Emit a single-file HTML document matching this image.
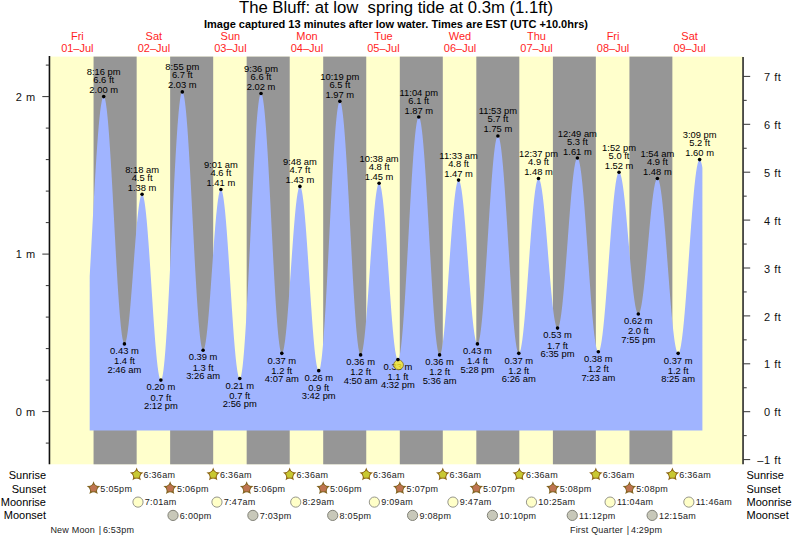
<!DOCTYPE html><html><head><meta charset="utf-8"><style>html,body{margin:0;padding:0;background:#fff;width:793px;height:538px;overflow:hidden}svg{display:block}text{font-family:"Liberation Sans", sans-serif}</style></head><body>
<svg width="793" height="538" viewBox="0 0 793 538">
<rect x="0" y="0" width="793" height="538" fill="#fff"/>
<text x="396" y="13.2" font-size="16.7" text-anchor="middle" fill="#000" style="white-space:pre">The Bluff: at low  spring tide at 0.3m (1.1ft)</text>
<text x="396" y="27.8" font-size="11" font-weight="bold" text-anchor="middle" fill="#000">Image captured 13 minutes after low water. Times are EST (UTC +10.0hrs)</text>
<text x="77.35" y="40.0" font-size="11" text-anchor="middle" fill="#FF1E1E">Fri</text>
<text x="77.35" y="51.85" font-size="11" text-anchor="middle" fill="#FF1E1E">01&#8211;Jul</text>
<text x="153.88" y="40.0" font-size="11" text-anchor="middle" fill="#FF1E1E">Sat</text>
<text x="153.88" y="51.85" font-size="11" text-anchor="middle" fill="#FF1E1E">02&#8211;Jul</text>
<text x="230.41" y="40.0" font-size="11" text-anchor="middle" fill="#FF1E1E">Sun</text>
<text x="230.41" y="51.85" font-size="11" text-anchor="middle" fill="#FF1E1E">03&#8211;Jul</text>
<text x="306.94" y="40.0" font-size="11" text-anchor="middle" fill="#FF1E1E">Mon</text>
<text x="306.94" y="51.85" font-size="11" text-anchor="middle" fill="#FF1E1E">04&#8211;Jul</text>
<text x="383.47" y="40.0" font-size="11" text-anchor="middle" fill="#FF1E1E">Tue</text>
<text x="383.47" y="51.85" font-size="11" text-anchor="middle" fill="#FF1E1E">05&#8211;Jul</text>
<text x="460.00" y="40.0" font-size="11" text-anchor="middle" fill="#FF1E1E">Wed</text>
<text x="460.00" y="51.85" font-size="11" text-anchor="middle" fill="#FF1E1E">06&#8211;Jul</text>
<text x="536.53" y="40.0" font-size="11" text-anchor="middle" fill="#FF1E1E">Thu</text>
<text x="536.53" y="51.85" font-size="11" text-anchor="middle" fill="#FF1E1E">07&#8211;Jul</text>
<text x="613.06" y="40.0" font-size="11" text-anchor="middle" fill="#FF1E1E">Fri</text>
<text x="613.06" y="51.85" font-size="11" text-anchor="middle" fill="#FF1E1E">08&#8211;Jul</text>
<text x="689.60" y="40.0" font-size="11" text-anchor="middle" fill="#FF1E1E">Sat</text>
<text x="689.60" y="51.85" font-size="11" text-anchor="middle" fill="#FF1E1E">09&#8211;Jul</text>
<rect x="49.30" y="56.60" width="693.90" height="407.70" fill="#FFFFCC"/>
<rect x="93.56" y="56.60" width="43.10" height="407.70" fill="#969696"/>
<rect x="170.14" y="56.60" width="43.05" height="407.70" fill="#969696"/>
<rect x="246.67" y="56.60" width="43.05" height="407.70" fill="#969696"/>
<rect x="323.20" y="56.60" width="43.05" height="407.70" fill="#969696"/>
<rect x="399.79" y="56.60" width="43.00" height="407.70" fill="#969696"/>
<rect x="476.32" y="56.60" width="43.00" height="407.70" fill="#969696"/>
<rect x="552.90" y="56.60" width="42.94" height="407.70" fill="#969696"/>
<rect x="629.43" y="56.60" width="42.94" height="407.70" fill="#969696"/>
<path d="M89.70 430.60 L89.70 276.14 L90.01 270.61 L90.31 265.03 L90.62 259.41 L90.93 253.75 L91.23 248.06 L91.54 242.37 L91.84 236.66 L92.15 230.96 L92.46 225.26 L92.76 219.59 L93.07 213.95 L93.38 208.35 L93.68 202.80 L93.99 197.31 L94.30 191.88 L94.60 186.53 L94.91 181.26 L95.21 176.08 L95.52 171.01 L95.83 166.04 L96.13 161.19 L96.44 156.47 L96.75 151.88 L97.05 147.43 L97.36 143.13 L97.67 138.98 L97.97 134.99 L98.28 131.17 L98.58 127.52 L98.89 124.05 L99.20 120.77 L99.50 117.68 L99.81 114.78 L100.12 112.09 L100.42 109.60 L100.73 107.32 L101.03 105.25 L101.34 103.39 L101.65 101.76 L101.95 100.34 L102.26 99.15 L102.57 98.19 L102.87 97.45 L103.18 96.94 L103.49 96.66 L103.79 96.61 L104.10 96.82 L104.40 97.29 L104.71 98.03 L105.02 99.03 L105.32 100.30 L105.63 101.82 L105.94 103.60 L106.24 105.63 L106.55 107.90 L106.86 110.42 L107.16 113.17 L107.47 116.16 L107.77 119.37 L108.08 122.80 L108.39 126.43 L108.69 130.27 L109.00 134.31 L109.31 138.53 L109.61 142.92 L109.92 147.48 L110.23 152.20 L110.53 157.07 L110.84 162.07 L111.14 167.19 L111.45 172.44 L111.76 177.78 L112.06 183.22 L112.37 188.73 L112.68 194.31 L112.98 199.95 L113.29 205.64 L113.60 211.35 L113.90 217.08 L114.21 222.82 L114.51 228.56 L114.82 234.28 L115.13 239.96 L115.43 245.61 L115.74 251.20 L116.05 256.72 L116.35 262.16 L116.66 267.52 L116.97 272.77 L117.27 277.91 L117.58 282.92 L117.88 287.80 L118.19 292.53 L118.50 297.11 L118.80 301.52 L119.11 305.76 L119.42 309.81 L119.72 313.67 L120.03 317.33 L120.34 320.78 L120.64 324.01 L120.95 327.02 L121.25 329.79 L121.56 332.34 L121.87 334.64 L122.17 336.69 L122.48 338.49 L122.79 340.04 L123.09 341.33 L123.40 342.36 L123.70 343.12 L124.01 343.62 L124.32 343.86 L124.62 343.83 L124.93 343.58 L125.24 343.11 L125.54 342.42 L125.85 341.51 L126.16 340.39 L126.46 339.05 L126.77 337.50 L127.07 335.75 L127.38 333.81 L127.69 331.67 L127.99 329.34 L128.30 326.84 L128.61 324.16 L128.91 321.32 L129.22 318.32 L129.53 315.18 L129.83 311.90 L130.14 308.49 L130.44 304.97 L130.75 301.33 L131.06 297.61 L131.36 293.79 L131.67 289.91 L131.98 285.96 L132.28 281.96 L132.59 277.92 L132.90 273.86 L133.20 269.78 L133.51 265.70 L133.81 261.64 L134.12 257.59 L134.43 253.57 L134.73 249.61 L135.04 245.70 L135.35 241.86 L135.65 238.10 L135.96 234.43 L136.27 230.87 L136.57 227.42 L136.88 224.09 L137.18 220.90 L137.49 217.85 L137.80 214.95 L138.10 212.22 L138.41 209.65 L138.72 207.26 L139.02 205.05 L139.33 203.04 L139.64 201.22 L139.94 199.60 L140.25 198.19 L140.55 196.99 L140.86 196.00 L141.17 195.23 L141.47 194.68 L141.78 194.36 L142.09 194.25 L142.39 194.38 L142.70 194.75 L143.00 195.36 L143.31 196.21 L143.62 197.30 L143.92 198.63 L144.23 200.19 L144.54 201.97 L144.84 203.98 L145.15 206.20 L145.46 208.64 L145.76 211.28 L146.07 214.12 L146.37 217.16 L146.68 220.37 L146.99 223.76 L147.29 227.32 L147.60 231.03 L147.91 234.89 L148.21 238.89 L148.52 243.01 L148.83 247.25 L149.13 251.59 L149.44 256.03 L149.74 260.55 L150.05 265.13 L150.36 269.78 L150.66 274.47 L150.97 279.19 L151.28 283.93 L151.58 288.69 L151.89 293.44 L152.20 298.17 L152.50 302.87 L152.81 307.54 L153.11 312.15 L153.42 316.69 L153.73 321.16 L154.03 325.53 L154.34 329.81 L154.65 333.98 L154.95 338.02 L155.26 341.93 L155.57 345.70 L155.87 349.31 L156.18 352.77 L156.48 356.05 L156.79 359.14 L157.10 362.06 L157.40 364.77 L157.71 367.28 L158.02 369.59 L158.32 371.68 L158.63 373.54 L158.94 375.18 L159.24 376.59 L159.55 377.77 L159.85 378.71 L160.16 379.41 L160.47 379.87 L160.77 380.08 L161.08 380.05 L161.39 379.72 L161.69 379.11 L162.00 378.21 L162.30 377.02 L162.61 375.54 L162.92 373.79 L163.22 371.75 L163.53 369.44 L163.84 366.87 L164.14 364.02 L164.45 360.92 L164.76 357.57 L165.06 353.97 L165.37 350.14 L165.67 346.07 L165.98 341.78 L166.29 337.28 L166.59 332.57 L166.90 327.67 L167.21 322.58 L167.51 317.32 L167.82 311.89 L168.13 306.31 L168.43 300.59 L168.74 294.74 L169.04 288.77 L169.35 282.69 L169.66 276.52 L169.96 270.27 L170.27 263.95 L170.58 257.57 L170.88 251.15 L171.19 244.69 L171.50 238.22 L171.80 231.75 L172.11 225.28 L172.41 218.84 L172.72 212.43 L173.03 206.06 L173.33 199.76 L173.64 193.53 L173.95 187.39 L174.25 181.34 L174.56 175.41 L174.87 169.60 L175.17 163.92 L175.48 158.38 L175.78 153.01 L176.09 147.80 L176.40 142.77 L176.70 137.93 L177.01 133.28 L177.32 128.84 L177.62 124.62 L177.93 120.63 L178.24 116.86 L178.54 113.34 L178.85 110.06 L179.15 107.04 L179.46 104.28 L179.77 101.79 L180.07 99.56 L180.38 97.62 L180.69 95.95 L180.99 94.56 L181.30 93.46 L181.61 92.65 L181.91 92.12 L182.22 91.89 L182.52 91.94 L182.83 92.27 L183.14 92.88 L183.44 93.76 L183.75 94.92 L184.06 96.35 L184.36 98.04 L184.67 100.00 L184.97 102.21 L185.28 104.68 L185.59 107.41 L185.89 110.37 L186.20 113.57 L186.51 117.00 L186.81 120.66 L187.12 124.53 L187.43 128.61 L187.73 132.88 L188.04 137.35 L188.34 141.99 L188.65 146.81 L188.96 151.78 L189.26 156.90 L189.57 162.16 L189.88 167.55 L190.18 173.05 L190.49 178.65 L190.80 184.34 L191.10 190.12 L191.41 195.95 L191.71 201.85 L192.02 207.78 L192.33 213.74 L192.63 219.72 L192.94 225.70 L193.25 231.67 L193.55 237.62 L193.86 243.53 L194.17 249.39 L194.47 255.20 L194.78 260.93 L195.08 266.57 L195.39 272.12 L195.70 277.55 L196.00 282.87 L196.31 288.05 L196.62 293.09 L196.92 297.98 L197.23 302.70 L197.54 307.24 L197.84 311.60 L198.15 315.76 L198.45 319.73 L198.76 323.48 L199.07 327.01 L199.37 330.31 L199.68 333.38 L199.99 336.21 L200.29 338.79 L200.60 341.12 L200.91 343.19 L201.21 345.00 L201.52 346.54 L201.82 347.81 L202.13 348.82 L202.44 349.54 L202.74 350.00 L203.05 350.17 L203.36 350.09 L203.66 349.77 L203.97 349.21 L204.27 348.43 L204.58 347.41 L204.89 346.17 L205.19 344.71 L205.50 343.02 L205.81 341.13 L206.11 339.02 L206.42 336.71 L206.73 334.21 L207.03 331.52 L207.34 328.65 L207.64 325.61 L207.95 322.40 L208.26 319.04 L208.56 315.54 L208.87 311.90 L209.18 308.14 L209.48 304.27 L209.79 300.30 L210.10 296.24 L210.40 292.10 L210.71 287.90 L211.01 283.64 L211.32 279.35 L211.63 275.03 L211.93 270.69 L212.24 266.35 L212.55 262.01 L212.85 257.71 L213.16 253.43 L213.47 249.21 L213.77 245.05 L214.08 240.95 L214.38 236.95 L214.69 233.04 L215.00 229.23 L215.30 225.55 L215.61 221.99 L215.92 218.58 L216.22 215.31 L216.53 212.20 L216.84 209.27 L217.14 206.51 L217.45 203.93 L217.75 201.55 L218.06 199.36 L218.37 197.38 L218.67 195.62 L218.98 194.07 L219.29 192.74 L219.59 191.64 L219.90 190.76 L220.21 190.12 L220.51 189.71 L220.82 189.53 L221.12 189.59 L221.43 189.90 L221.74 190.45 L222.04 191.25 L222.35 192.28 L222.66 193.56 L222.96 195.07 L223.27 196.81 L223.57 198.78 L223.88 200.97 L224.19 203.38 L224.49 205.99 L224.80 208.81 L225.11 211.83 L225.41 215.03 L225.72 218.41 L226.03 221.97 L226.33 225.68 L226.64 229.55 L226.94 233.56 L227.25 237.70 L227.56 241.96 L227.86 246.33 L228.17 250.79 L228.48 255.35 L228.78 259.98 L229.09 264.67 L229.40 269.41 L229.70 274.19 L230.01 278.99 L230.31 283.81 L230.62 288.63 L230.93 293.44 L231.23 298.22 L231.54 302.96 L231.85 307.66 L232.15 312.29 L232.46 316.86 L232.77 321.33 L233.07 325.71 L233.38 329.98 L233.68 334.13 L233.99 338.15 L234.30 342.03 L234.60 345.76 L234.91 349.33 L235.22 352.72 L235.52 355.94 L235.83 358.98 L236.14 361.81 L236.44 364.45 L236.75 366.87 L237.05 369.08 L237.36 371.07 L237.67 372.83 L237.97 374.37 L238.28 375.66 L238.59 376.72 L238.89 377.54 L239.20 378.11 L239.51 378.44 L239.81 378.52 L240.12 378.33 L240.42 377.84 L240.73 377.07 L241.04 376.00 L241.34 374.65 L241.65 373.01 L241.96 371.10 L242.26 368.90 L242.57 366.44 L242.88 363.70 L243.18 360.71 L243.49 357.46 L243.79 353.96 L244.10 350.22 L244.41 346.24 L244.71 342.04 L245.02 337.62 L245.33 333.00 L245.63 328.17 L245.94 323.16 L246.24 317.96 L246.55 312.60 L246.86 307.08 L247.16 301.42 L247.47 295.62 L247.78 289.70 L248.08 283.67 L248.39 277.54 L248.70 271.33 L249.00 265.04 L249.31 258.70 L249.61 252.31 L249.92 245.88 L250.23 239.44 L250.53 232.98 L250.84 226.54 L251.15 220.11 L251.45 213.72 L251.76 207.37 L252.07 201.08 L252.37 194.86 L252.68 188.72 L252.98 182.69 L253.29 176.76 L253.60 170.95 L253.90 165.28 L254.21 159.75 L254.52 154.38 L254.82 149.17 L255.13 144.15 L255.44 139.31 L255.74 134.67 L256.05 130.23 L256.35 126.02 L256.66 122.02 L256.97 118.27 L257.27 114.75 L257.58 111.48 L257.89 108.47 L258.19 105.72 L258.50 103.23 L258.81 101.02 L259.11 99.08 L259.42 97.43 L259.72 96.06 L260.03 94.97 L260.34 94.18 L260.64 93.67 L260.95 93.46 L261.26 93.53 L261.56 93.89 L261.87 94.52 L262.18 95.42 L262.48 96.61 L262.79 98.06 L263.09 99.78 L263.40 101.77 L263.71 104.02 L264.01 106.52 L264.32 109.28 L264.63 112.28 L264.93 115.52 L265.24 118.99 L265.54 122.68 L265.85 126.59 L266.16 130.71 L266.46 135.02 L266.77 139.53 L267.08 144.21 L267.38 149.07 L267.69 154.08 L268.00 159.24 L268.30 164.55 L268.61 169.97 L268.91 175.51 L269.22 181.16 L269.53 186.89 L269.83 192.70 L270.14 198.58 L270.45 204.51 L270.75 210.49 L271.06 216.49 L271.37 222.50 L271.67 228.52 L271.98 234.52 L272.28 240.51 L272.59 246.45 L272.90 252.35 L273.20 258.18 L273.51 263.94 L273.82 269.61 L274.12 275.18 L274.43 280.64 L274.74 285.98 L275.04 291.19 L275.35 296.25 L275.65 301.15 L275.96 305.89 L276.27 310.45 L276.57 314.82 L276.88 318.99 L277.19 322.97 L277.49 326.72 L277.80 330.26 L278.11 333.57 L278.41 336.64 L278.72 339.47 L279.02 342.04 L279.33 344.37 L279.64 346.43 L279.94 348.24 L280.25 349.77 L280.56 351.03 L280.86 352.02 L281.17 352.73 L281.48 353.17 L281.78 353.32 L282.09 353.22 L282.39 352.88 L282.70 352.31 L283.01 351.51 L283.31 350.47 L283.62 349.21 L283.93 347.72 L284.23 346.02 L284.54 344.10 L284.84 341.97 L285.15 339.64 L285.46 337.11 L285.76 334.39 L286.07 331.49 L286.38 328.41 L286.68 325.17 L286.99 321.78 L287.30 318.23 L287.60 314.55 L287.91 310.75 L288.21 306.83 L288.52 302.81 L288.83 298.69 L289.13 294.49 L289.44 290.22 L289.75 285.90 L290.05 281.52 L290.36 277.12 L290.67 272.70 L290.97 268.26 L291.28 263.84 L291.58 259.43 L291.89 255.04 L292.20 250.70 L292.50 246.42 L292.81 242.20 L293.12 238.06 L293.42 234.00 L293.73 230.05 L294.04 226.21 L294.34 222.50 L294.65 218.92 L294.95 215.48 L295.26 212.19 L295.57 209.07 L295.87 206.12 L296.18 203.35 L296.49 200.76 L296.79 198.37 L297.10 196.19 L297.41 194.20 L297.71 192.44 L298.02 190.89 L298.32 189.56 L298.63 188.46 L298.94 187.59 L299.24 186.96 L299.55 186.55 L299.86 186.38 L300.16 186.45 L300.47 186.76 L300.78 187.30 L301.08 188.09 L301.39 189.11 L301.69 190.37 L302.00 191.86 L302.31 193.57 L302.61 195.51 L302.92 197.66 L303.23 200.03 L303.53 202.60 L303.84 205.37 L304.14 208.33 L304.45 211.48 L304.76 214.80 L305.06 218.28 L305.37 221.93 L305.68 225.72 L305.98 229.65 L306.29 233.71 L306.60 237.88 L306.90 242.16 L307.21 246.54 L307.51 251.00 L307.82 255.53 L308.13 260.12 L308.43 264.76 L308.74 269.44 L309.05 274.14 L309.35 278.85 L309.66 283.56 L309.97 288.26 L310.27 292.93 L310.58 297.57 L310.88 302.15 L311.19 306.68 L311.50 311.12 L311.80 315.49 L312.11 319.75 L312.42 323.91 L312.72 327.95 L313.03 331.86 L313.34 335.64 L313.64 339.26 L313.95 342.72 L314.25 346.02 L314.56 349.13 L314.87 352.07 L315.17 354.81 L315.48 357.35 L315.79 359.68 L316.09 361.81 L316.40 363.71 L316.71 365.39 L317.01 366.85 L317.32 368.07 L317.62 369.06 L317.93 369.81 L318.24 370.33 L318.54 370.60 L318.85 370.63 L319.16 370.39 L319.46 369.87 L319.77 369.07 L320.08 367.99 L320.38 366.64 L320.69 365.01 L320.99 363.12 L321.30 360.96 L321.61 358.55 L321.91 355.88 L322.22 352.95 L322.53 349.79 L322.83 346.39 L323.14 342.76 L323.45 338.91 L323.75 334.84 L324.06 330.57 L324.36 326.10 L324.67 321.44 L324.98 316.60 L325.28 311.60 L325.59 306.44 L325.90 301.14 L326.20 295.69 L326.51 290.13 L326.81 284.45 L327.12 278.67 L327.43 272.80 L327.73 266.86 L328.04 260.85 L328.35 254.79 L328.65 248.69 L328.96 242.56 L329.27 236.42 L329.57 230.28 L329.88 224.15 L330.18 218.05 L330.49 211.98 L330.80 205.96 L331.10 200.01 L331.41 194.13 L331.72 188.34 L332.02 182.64 L332.33 177.06 L332.64 171.60 L332.94 166.27 L333.25 161.09 L333.55 156.07 L333.86 151.21 L334.17 146.53 L334.47 142.03 L334.78 137.73 L335.09 133.63 L335.39 129.75 L335.70 126.09 L336.01 122.65 L336.31 119.45 L336.62 116.50 L336.92 113.79 L337.23 111.34 L337.54 109.14 L337.84 107.21 L338.15 105.55 L338.46 104.16 L338.76 103.04 L339.07 102.20 L339.38 101.64 L339.68 101.36 L339.99 101.36 L340.29 101.63 L340.60 102.17 L340.91 102.98 L341.21 104.06 L341.52 105.41 L341.83 107.01 L342.13 108.88 L342.44 111.01 L342.75 113.38 L343.05 116.00 L343.36 118.87 L343.66 121.96 L343.97 125.29 L344.28 128.83 L344.58 132.59 L344.89 136.55 L345.20 140.71 L345.50 145.05 L345.81 149.58 L346.11 154.27 L346.42 159.12 L346.73 164.12 L347.03 169.26 L347.34 174.52 L347.65 179.90 L347.95 185.38 L348.26 190.95 L348.57 196.60 L348.87 202.32 L349.18 208.10 L349.48 213.91 L349.79 219.76 L350.10 225.63 L350.40 231.50 L350.71 237.36 L351.02 243.21 L351.32 249.02 L351.63 254.79 L351.94 260.50 L352.24 266.14 L352.55 271.70 L352.85 277.16 L353.16 282.52 L353.47 287.77 L353.77 292.88 L354.08 297.86 L354.39 302.69 L354.69 307.35 L355.00 311.85 L355.31 316.17 L355.61 320.30 L355.92 324.23 L356.22 327.95 L356.53 331.46 L356.84 334.75 L357.14 337.81 L357.45 340.64 L357.76 343.22 L358.06 345.56 L358.37 347.65 L358.68 349.47 L358.98 351.04 L359.29 352.35 L359.59 353.39 L359.90 354.16 L360.21 354.66 L360.51 354.88 L360.82 354.85 L361.13 354.58 L361.43 354.08 L361.74 353.35 L362.05 352.39 L362.35 351.20 L362.66 349.80 L362.96 348.17 L363.27 346.33 L363.58 344.28 L363.88 342.03 L364.19 339.58 L364.50 336.94 L364.80 334.11 L365.11 331.11 L365.41 327.94 L365.72 324.61 L366.03 321.13 L366.33 317.51 L366.64 313.76 L366.95 309.89 L367.25 305.91 L367.56 301.82 L367.87 297.65 L368.17 293.40 L368.48 289.09 L368.78 284.72 L369.09 280.31 L369.40 275.87 L369.70 271.41 L370.01 266.94 L370.32 262.48 L370.62 258.04 L370.93 253.63 L371.24 249.26 L371.54 244.94 L371.85 240.69 L372.15 236.51 L372.46 232.42 L372.77 228.44 L373.07 224.56 L373.38 220.80 L373.69 217.17 L373.99 213.69 L374.30 210.35 L374.61 207.17 L374.91 204.16 L375.22 201.33 L375.52 198.68 L375.83 196.22 L376.14 193.95 L376.44 191.89 L376.75 190.04 L377.06 188.41 L377.36 186.99 L377.67 185.79 L377.98 184.82 L378.28 184.08 L378.59 183.57 L378.89 183.28 L379.20 183.23 L379.51 183.42 L379.81 183.83 L380.12 184.47 L380.43 185.34 L380.73 186.43 L381.04 187.75 L381.35 189.28 L381.65 191.03 L381.96 193.00 L382.26 195.16 L382.57 197.53 L382.88 200.09 L383.18 202.83 L383.49 205.76 L383.80 208.85 L384.10 212.11 L384.41 215.53 L384.72 219.09 L385.02 222.79 L385.33 226.61 L385.63 230.56 L385.94 234.61 L386.25 238.75 L386.55 242.98 L386.86 247.29 L387.17 251.66 L387.47 256.08 L387.78 260.54 L388.08 265.03 L388.39 269.54 L388.70 274.05 L389.00 278.55 L389.31 283.04 L389.62 287.50 L389.92 291.91 L390.23 296.27 L390.54 300.56 L390.84 304.78 L391.15 308.91 L391.45 312.95 L391.76 316.87 L392.07 320.68 L392.37 324.35 L392.68 327.89 L392.99 331.28 L393.29 334.52 L393.60 337.59 L393.91 340.48 L394.21 343.20 L394.52 345.72 L394.82 348.06 L395.13 350.19 L395.44 352.12 L395.74 353.83 L396.05 355.33 L396.36 356.61 L396.66 357.67 L396.97 358.50 L397.28 359.10 L397.58 359.48 L397.89 359.62 L398.19 359.53 L398.50 359.17 L398.81 358.56 L399.11 357.69 L399.42 356.56 L399.73 355.19 L400.03 353.56 L400.34 351.69 L400.65 349.57 L400.95 347.22 L401.26 344.64 L401.56 341.83 L401.87 338.80 L402.18 335.55 L402.48 332.10 L402.79 328.45 L403.10 324.60 L403.40 320.57 L403.71 316.37 L404.02 312.00 L404.32 307.47 L404.63 302.79 L404.93 297.98 L405.24 293.04 L405.55 287.98 L405.85 282.82 L406.16 277.56 L406.47 272.22 L406.77 266.81 L407.08 261.33 L407.38 255.81 L407.69 250.25 L408.00 244.66 L408.30 239.06 L408.61 233.46 L408.92 227.87 L409.22 222.30 L409.53 216.77 L409.84 211.28 L410.14 205.85 L410.45 200.49 L410.75 195.21 L411.06 190.02 L411.37 184.94 L411.67 179.97 L411.98 175.12 L412.29 170.41 L412.59 165.84 L412.90 161.43 L413.21 157.18 L413.51 153.11 L413.82 149.21 L414.12 145.51 L414.43 142.01 L414.74 138.71 L415.04 135.62 L415.35 132.76 L415.66 130.11 L415.96 127.70 L416.27 125.53 L416.58 123.59 L416.88 121.91 L417.19 120.46 L417.49 119.28 L417.80 118.34 L418.11 117.66 L418.41 117.24 L418.72 117.08 L419.03 117.17 L419.33 117.52 L419.64 118.12 L419.95 118.97 L420.25 120.07 L420.56 121.42 L420.86 123.01 L421.17 124.85 L421.48 126.92 L421.78 129.22 L422.09 131.75 L422.40 134.51 L422.70 137.48 L423.01 140.66 L423.32 144.04 L423.62 147.63 L423.93 151.39 L424.23 155.34 L424.54 159.47 L424.85 163.75 L425.15 168.19 L425.46 172.77 L425.77 177.49 L426.07 182.33 L426.38 187.29 L426.68 192.35 L426.99 197.51 L427.30 202.75 L427.60 208.05 L427.91 213.42 L428.22 218.84 L428.52 224.29 L428.83 229.77 L429.14 235.26 L429.44 240.75 L429.75 246.23 L430.05 251.69 L430.36 257.12 L430.67 262.50 L430.97 267.82 L431.28 273.08 L431.59 278.26 L431.89 283.35 L432.20 288.33 L432.51 293.21 L432.81 297.96 L433.12 302.58 L433.42 307.06 L433.73 311.39 L434.04 315.55 L434.34 319.55 L434.65 323.37 L434.96 327.00 L435.26 330.43 L435.57 333.67 L435.88 336.70 L436.18 339.51 L436.49 342.10 L436.79 344.47 L437.10 346.60 L437.41 348.50 L437.71 350.16 L438.02 351.57 L438.33 352.74 L438.63 353.65 L438.94 354.32 L439.25 354.74 L439.55 354.90 L439.86 354.82 L440.16 354.51 L440.47 353.98 L440.78 353.23 L441.08 352.25 L441.39 351.06 L441.70 349.65 L442.00 348.04 L442.31 346.21 L442.62 344.18 L442.92 341.96 L443.23 339.54 L443.53 336.94 L443.84 334.16 L444.15 331.21 L444.45 328.09 L444.76 324.82 L445.07 321.40 L445.37 317.84 L445.68 314.15 L445.99 310.35 L446.29 306.43 L446.60 302.41 L446.90 298.30 L447.21 294.12 L447.52 289.86 L447.82 285.55 L448.13 281.19 L448.44 276.79 L448.74 272.37 L449.05 267.94 L449.35 263.51 L449.66 259.09 L449.97 254.69 L450.27 250.32 L450.58 245.99 L450.89 241.73 L451.19 237.52 L451.50 233.40 L451.81 229.36 L452.11 225.42 L452.42 221.59 L452.72 217.88 L453.03 214.29 L453.34 210.84 L453.64 207.54 L453.95 204.39 L454.26 201.41 L454.56 198.59 L454.87 195.95 L455.18 193.50 L455.48 191.23 L455.79 189.16 L456.09 187.30 L456.40 185.64 L456.71 184.18 L457.01 182.95 L457.32 181.93 L457.63 181.13 L457.93 180.56 L458.24 180.20 L458.55 180.08 L458.85 180.17 L459.16 180.47 L459.46 180.99 L459.77 181.72 L460.08 182.65 L460.38 183.79 L460.69 185.14 L461.00 186.69 L461.30 188.43 L461.61 190.36 L461.92 192.48 L462.22 194.78 L462.53 197.25 L462.83 199.90 L463.14 202.70 L463.45 205.66 L463.75 208.77 L464.06 212.01 L464.37 215.38 L464.67 218.88 L464.98 222.49 L465.29 226.20 L465.59 230.00 L465.90 233.89 L466.20 237.85 L466.51 241.87 L466.82 245.94 L467.12 250.06 L467.43 254.20 L467.74 258.37 L468.04 262.55 L468.35 266.72 L468.65 270.89 L468.96 275.03 L469.27 279.13 L469.57 283.19 L469.88 287.20 L470.19 291.14 L470.49 295.00 L470.80 298.78 L471.11 302.46 L471.41 306.04 L471.72 309.50 L472.02 312.84 L472.33 316.05 L472.64 319.12 L472.94 322.03 L473.25 324.79 L473.56 327.39 L473.86 329.82 L474.17 332.07 L474.48 334.14 L474.78 336.02 L475.09 337.71 L475.39 339.20 L475.70 340.49 L476.01 341.58 L476.31 342.45 L476.62 343.12 L476.93 343.58 L477.23 343.83 L477.54 343.86 L477.85 343.67 L478.15 343.24 L478.46 342.59 L478.76 341.71 L479.07 340.61 L479.38 339.28 L479.68 337.73 L479.99 335.97 L480.30 334.00 L480.60 331.81 L480.91 329.43 L481.22 326.84 L481.52 324.06 L481.83 321.10 L482.13 317.96 L482.44 314.64 L482.75 311.16 L483.05 307.52 L483.36 303.73 L483.67 299.81 L483.97 295.74 L484.28 291.56 L484.59 287.26 L484.89 282.86 L485.20 278.36 L485.50 273.77 L485.81 269.12 L486.12 264.39 L486.42 259.61 L486.73 254.79 L487.04 249.94 L487.34 245.06 L487.65 240.18 L487.95 235.29 L488.26 230.41 L488.57 225.55 L488.87 220.73 L489.18 215.95 L489.49 211.22 L489.79 206.55 L490.10 201.96 L490.41 197.45 L490.71 193.04 L491.02 188.73 L491.32 184.53 L491.63 180.46 L491.94 176.51 L492.24 172.71 L492.55 169.06 L492.86 165.56 L493.16 162.23 L493.47 159.07 L493.78 156.08 L494.08 153.29 L494.39 150.68 L494.69 148.27 L495.00 146.07 L495.31 144.07 L495.61 142.29 L495.92 140.72 L496.23 139.37 L496.53 138.24 L496.84 137.34 L497.15 136.66 L497.45 136.22 L497.76 136.00 L498.06 136.01 L498.37 136.25 L498.68 136.73 L498.98 137.43 L499.29 138.36 L499.60 139.51 L499.90 140.89 L500.21 142.49 L500.52 144.31 L500.82 146.33 L501.13 148.57 L501.43 151.01 L501.74 153.65 L502.05 156.49 L502.35 159.51 L502.66 162.71 L502.97 166.08 L503.27 169.63 L503.58 173.33 L503.89 177.18 L504.19 181.17 L504.50 185.31 L504.80 189.56 L505.11 193.94 L505.42 198.42 L505.72 203.00 L506.03 207.66 L506.34 212.41 L506.64 217.22 L506.95 222.10 L507.26 227.02 L507.56 231.98 L507.87 236.96 L508.17 241.96 L508.48 246.97 L508.79 251.97 L509.09 256.96 L509.40 261.92 L509.71 266.84 L510.01 271.72 L510.32 276.54 L510.62 281.29 L510.93 285.97 L511.24 290.55 L511.54 295.04 L511.85 299.42 L512.16 303.69 L512.46 307.83 L512.77 311.83 L513.08 315.70 L513.38 319.41 L513.69 322.96 L513.99 326.35 L514.30 329.56 L514.61 332.60 L514.91 335.45 L515.22 338.10 L515.53 340.56 L515.83 342.81 L516.14 344.85 L516.45 346.68 L516.75 348.30 L517.06 349.69 L517.36 350.87 L517.67 351.81 L517.98 352.53 L518.28 353.02 L518.59 353.28 L518.90 353.31 L519.20 353.13 L519.51 352.74 L519.82 352.14 L520.12 351.34 L520.43 350.34 L520.73 349.13 L521.04 347.72 L521.35 346.12 L521.65 344.33 L521.96 342.36 L522.27 340.20 L522.57 337.86 L522.88 335.35 L523.19 332.68 L523.49 329.85 L523.80 326.86 L524.10 323.73 L524.41 320.46 L524.72 317.07 L525.02 313.55 L525.33 309.91 L525.64 306.18 L525.94 302.34 L526.25 298.42 L526.56 294.43 L526.86 290.36 L527.17 286.24 L527.47 282.06 L527.78 277.85 L528.09 273.61 L528.39 269.36 L528.70 265.09 L529.01 260.83 L529.31 256.57 L529.62 252.35 L529.92 248.15 L530.23 243.99 L530.54 239.89 L530.84 235.85 L531.15 231.88 L531.46 227.99 L531.76 224.20 L532.07 220.50 L532.38 216.91 L532.68 213.43 L532.99 210.09 L533.29 206.87 L533.60 203.80 L533.91 200.87 L534.21 198.10 L534.52 195.49 L534.83 193.04 L535.13 190.77 L535.44 188.68 L535.75 186.78 L536.05 185.06 L536.36 183.54 L536.66 182.21 L536.97 181.08 L537.28 180.15 L537.58 179.43 L537.89 178.91 L538.20 178.60 L538.50 178.50 L538.81 178.60 L539.12 178.89 L539.42 179.37 L539.73 180.03 L540.03 180.89 L540.34 181.93 L540.65 183.16 L540.95 184.56 L541.26 186.14 L541.57 187.89 L541.87 189.81 L542.18 191.89 L542.49 194.13 L542.79 196.52 L543.10 199.05 L543.40 201.72 L543.71 204.53 L544.02 207.46 L544.32 210.51 L544.63 213.67 L544.94 216.92 L545.24 220.28 L545.55 223.71 L545.86 227.22 L546.16 230.80 L546.47 234.44 L546.77 238.12 L547.08 241.85 L547.39 245.60 L547.69 249.37 L548.00 253.15 L548.31 256.94 L548.61 260.71 L548.92 264.46 L549.22 268.19 L549.53 271.88 L549.84 275.52 L550.14 279.10 L550.45 282.62 L550.76 286.06 L551.06 289.42 L551.37 292.69 L551.68 295.86 L551.98 298.91 L552.29 301.85 L552.59 304.67 L552.90 307.35 L553.21 309.90 L553.51 312.30 L553.82 314.55 L554.13 316.65 L554.43 318.58 L554.74 320.35 L555.05 321.94 L555.35 323.36 L555.66 324.60 L555.96 325.65 L556.27 326.53 L556.58 327.21 L556.88 327.71 L557.19 328.01 L557.50 328.12 L557.80 328.04 L558.11 327.76 L558.42 327.29 L558.72 326.61 L559.03 325.74 L559.33 324.67 L559.64 323.42 L559.95 321.97 L560.25 320.34 L560.56 318.53 L560.87 316.54 L561.17 314.38 L561.48 312.06 L561.79 309.57 L562.09 306.92 L562.40 304.13 L562.70 301.19 L563.01 298.12 L563.32 294.91 L563.62 291.59 L563.93 288.15 L564.24 284.61 L564.54 280.97 L564.85 277.24 L565.16 273.43 L565.46 269.55 L565.77 265.60 L566.07 261.61 L566.38 257.57 L566.69 253.50 L566.99 249.40 L567.30 245.29 L567.61 241.17 L567.91 237.06 L568.22 232.96 L568.53 228.88 L568.83 224.84 L569.14 220.84 L569.44 216.89 L569.75 213.01 L570.06 209.19 L570.36 205.45 L570.67 201.81 L570.98 198.26 L571.28 194.81 L571.59 191.48 L571.89 188.27 L572.20 185.18 L572.51 182.23 L572.81 179.43 L573.12 176.77 L573.43 174.27 L573.73 171.93 L574.04 169.76 L574.35 167.76 L574.65 165.94 L574.96 164.29 L575.26 162.83 L575.57 161.56 L575.88 160.48 L576.18 159.60 L576.49 158.91 L576.80 158.41 L577.10 158.12 L577.41 158.03 L577.72 158.13 L578.02 158.44 L578.33 158.96 L578.63 159.67 L578.94 160.59 L579.25 161.71 L579.55 163.03 L579.86 164.53 L580.17 166.23 L580.47 168.12 L580.78 170.19 L581.09 172.44 L581.39 174.86 L581.70 177.45 L582.00 180.21 L582.31 183.12 L582.62 186.19 L582.92 189.40 L583.23 192.74 L583.54 196.22 L583.84 199.83 L584.15 203.55 L584.46 207.37 L584.76 211.30 L585.07 215.32 L585.37 219.43 L585.68 223.61 L585.99 227.85 L586.29 232.15 L586.60 236.50 L586.91 240.89 L587.21 245.31 L587.52 249.75 L587.83 254.20 L588.13 258.65 L588.44 263.09 L588.74 267.52 L589.05 271.92 L589.36 276.28 L589.66 280.60 L589.97 284.86 L590.28 289.06 L590.58 293.19 L590.89 297.24 L591.19 301.20 L591.50 305.06 L591.81 308.81 L592.11 312.45 L592.42 315.97 L592.73 319.36 L593.03 322.61 L593.34 325.72 L593.65 328.68 L593.95 331.49 L594.26 334.13 L594.56 336.61 L594.87 338.91 L595.18 341.03 L595.48 342.98 L595.79 344.74 L596.10 346.30 L596.40 347.68 L596.71 348.86 L597.02 349.84 L597.32 350.62 L597.63 351.19 L597.93 351.57 L598.24 351.74 L598.55 351.71 L598.85 351.48 L599.16 351.06 L599.47 350.44 L599.77 349.64 L600.08 348.64 L600.39 347.46 L600.69 346.09 L601.00 344.54 L601.30 342.81 L601.61 340.90 L601.92 338.83 L602.22 336.58 L602.53 334.18 L602.84 331.62 L603.14 328.91 L603.45 326.05 L603.76 323.05 L604.06 319.93 L604.37 316.67 L604.67 313.30 L604.98 309.82 L605.29 306.23 L605.59 302.55 L605.90 298.78 L606.21 294.93 L606.51 291.01 L606.82 287.02 L607.13 282.98 L607.43 278.90 L607.74 274.78 L608.04 270.63 L608.35 266.46 L608.66 262.28 L608.96 258.10 L609.27 253.93 L609.58 249.78 L609.88 245.66 L610.19 241.57 L610.50 237.52 L610.80 233.53 L611.11 229.59 L611.41 225.73 L611.72 221.95 L612.03 218.25 L612.33 214.65 L612.64 211.15 L612.95 207.76 L613.25 204.49 L613.56 201.35 L613.86 198.33 L614.17 195.45 L614.48 192.72 L614.78 190.14 L615.09 187.71 L615.40 185.44 L615.70 183.34 L616.01 181.41 L616.32 179.65 L616.62 178.08 L616.93 176.68 L617.23 175.47 L617.54 174.45 L617.85 173.61 L618.15 172.97 L618.46 172.52 L618.77 172.26 L619.07 172.20 L619.38 172.32 L619.69 172.62 L619.99 173.09 L620.30 173.74 L620.60 174.56 L620.91 175.55 L621.22 176.70 L621.52 178.03 L621.83 179.51 L622.14 181.15 L622.44 182.95 L622.75 184.89 L623.06 186.98 L623.36 189.22 L623.67 191.58 L623.97 194.07 L624.28 196.69 L624.59 199.42 L624.89 202.25 L625.20 205.19 L625.51 208.23 L625.81 211.35 L626.12 214.55 L626.43 217.82 L626.73 221.15 L627.04 224.54 L627.34 227.98 L627.65 231.45 L627.96 234.95 L628.26 238.47 L628.57 242.00 L628.88 245.54 L629.18 249.07 L629.49 252.58 L629.80 256.07 L630.10 259.53 L630.41 262.95 L630.71 266.31 L631.02 269.62 L631.33 272.87 L631.63 276.04 L631.94 279.13 L632.25 282.12 L632.55 285.03 L632.86 287.82 L633.16 290.51 L633.47 293.07 L633.78 295.52 L634.08 297.83 L634.39 300.00 L634.70 302.04 L635.00 303.93 L635.31 305.66 L635.62 307.24 L635.92 308.66 L636.23 309.92 L636.53 311.01 L636.84 311.94 L637.15 312.69 L637.45 313.26 L637.76 313.67 L638.07 313.89 L638.37 313.95 L638.68 313.82 L638.99 313.53 L639.29 313.06 L639.60 312.43 L639.90 311.63 L640.21 310.65 L640.52 309.52 L640.82 308.23 L641.13 306.77 L641.44 305.17 L641.74 303.41 L642.05 301.51 L642.36 299.46 L642.66 297.29 L642.97 294.98 L643.27 292.54 L643.58 289.99 L643.89 287.33 L644.19 284.57 L644.50 281.70 L644.81 278.75 L645.11 275.71 L645.42 272.60 L645.73 269.42 L646.03 266.18 L646.34 262.90 L646.64 259.57 L646.95 256.20 L647.26 252.81 L647.56 249.40 L647.87 245.99 L648.18 242.57 L648.48 239.17 L648.79 235.78 L649.10 232.42 L649.40 229.10 L649.71 225.81 L650.01 222.58 L650.32 219.41 L650.63 216.31 L650.93 213.29 L651.24 210.34 L651.55 207.49 L651.85 204.74 L652.16 202.10 L652.46 199.56 L652.77 197.15 L653.08 194.86 L653.38 192.70 L653.69 190.67 L654.00 188.79 L654.30 187.05 L654.61 185.47 L654.92 184.04 L655.22 182.76 L655.53 181.65 L655.83 180.70 L656.14 179.92 L656.45 179.31 L656.75 178.87 L657.06 178.60 L657.37 178.50 L657.67 178.58 L657.98 178.85 L658.29 179.30 L658.59 179.94 L658.90 180.77 L659.20 181.77 L659.51 182.96 L659.82 184.33 L660.12 185.87 L660.43 187.58 L660.74 189.46 L661.04 191.50 L661.35 193.71 L661.66 196.07 L661.96 198.58 L662.27 201.23 L662.57 204.02 L662.88 206.94 L663.19 209.99 L663.49 213.16 L663.80 216.45 L664.11 219.84 L664.41 223.33 L664.72 226.91 L665.03 230.57 L665.33 234.31 L665.64 238.12 L665.94 241.98 L666.25 245.90 L666.56 249.86 L666.86 253.86 L667.17 257.88 L667.48 261.92 L667.78 265.96 L668.09 270.01 L668.40 274.05 L668.70 278.07 L669.01 282.07 L669.31 286.03 L669.62 289.94 L669.93 293.81 L670.23 297.61 L670.54 301.35 L670.85 305.01 L671.15 308.59 L671.46 312.08 L671.76 315.46 L672.07 318.74 L672.38 321.91 L672.68 324.96 L672.99 327.88 L673.30 330.67 L673.60 333.32 L673.91 335.82 L674.22 338.18 L674.52 340.38 L674.83 342.41 L675.13 344.29 L675.44 346.00 L675.75 347.53 L676.05 348.90 L676.36 350.08 L676.67 351.08 L676.97 351.90 L677.28 352.54 L677.59 352.99 L677.89 353.25 L678.20 353.32 L678.50 353.21 L678.81 352.90 L679.12 352.39 L679.42 351.70 L679.73 350.81 L680.04 349.73 L680.34 348.47 L680.65 347.02 L680.96 345.38 L681.26 343.57 L681.57 341.59 L681.87 339.43 L682.18 337.11 L682.49 334.62 L682.79 331.98 L683.10 329.19 L683.41 326.25 L683.71 323.17 L684.02 319.95 L684.33 316.61 L684.63 313.15 L684.94 309.57 L685.24 305.89 L685.55 302.11 L685.86 298.23 L686.16 294.27 L686.47 290.24 L686.78 286.14 L687.08 281.98 L687.39 277.76 L687.70 273.51 L688.00 269.22 L688.31 264.90 L688.61 260.57 L688.92 256.23 L689.23 251.89 L689.53 247.56 L689.84 243.25 L690.15 238.96 L690.45 234.71 L690.76 230.50 L691.07 226.35 L691.37 222.25 L691.68 218.23 L691.98 214.28 L692.29 210.41 L692.60 206.64 L692.90 202.97 L693.21 199.40 L693.52 195.95 L693.82 192.62 L694.13 189.42 L694.43 186.36 L694.74 183.43 L695.05 180.66 L695.35 178.03 L695.66 175.56 L695.97 173.26 L696.27 171.12 L696.58 169.15 L696.89 167.36 L697.19 165.75 L697.50 164.32 L697.80 163.07 L698.11 162.01 L698.42 161.15 L698.72 160.47 L699.03 159.99 L699.34 159.70 L699.64 159.60 L699.95 159.70 L700.26 160.01 L700.56 160.53 L700.87 161.24 L701.17 162.16 L701.48 163.28 L701.79 164.59 L702.09 166.10 L702.40 167.80 L702.40 430.60 Z" fill="#A0B4FF"/>
<line x1="49.45" y1="56.10" x2="49.45" y2="464.30" stroke="#111" stroke-width="1.6"/>
<line x1="743.05" y1="57.10" x2="743.05" y2="464.30" stroke="#2a2a2a" stroke-width="1.6"/>
<line x1="45.80" y1="443.10" x2="49.30" y2="443.10" stroke="#333" stroke-width="1"/>
<line x1="42.30" y1="411.60" x2="49.30" y2="411.60" stroke="#333" stroke-width="1"/>
<text x="35.8" y="415.60" font-size="11" letter-spacing="0.5" word-spacing="0.2" text-anchor="end" fill="#111">0 m</text>
<line x1="45.80" y1="380.10" x2="49.30" y2="380.10" stroke="#333" stroke-width="1"/>
<line x1="45.80" y1="348.60" x2="49.30" y2="348.60" stroke="#333" stroke-width="1"/>
<line x1="45.80" y1="317.10" x2="49.30" y2="317.10" stroke="#333" stroke-width="1"/>
<line x1="45.80" y1="285.60" x2="49.30" y2="285.60" stroke="#333" stroke-width="1"/>
<line x1="42.30" y1="254.10" x2="49.30" y2="254.10" stroke="#333" stroke-width="1"/>
<text x="35.8" y="258.10" font-size="11" letter-spacing="0.5" word-spacing="0.2" text-anchor="end" fill="#111">1 m</text>
<line x1="45.80" y1="222.60" x2="49.30" y2="222.60" stroke="#333" stroke-width="1"/>
<line x1="45.80" y1="191.10" x2="49.30" y2="191.10" stroke="#333" stroke-width="1"/>
<line x1="45.80" y1="159.60" x2="49.30" y2="159.60" stroke="#333" stroke-width="1"/>
<line x1="45.80" y1="128.10" x2="49.30" y2="128.10" stroke="#333" stroke-width="1"/>
<line x1="42.30" y1="96.60" x2="49.30" y2="96.60" stroke="#333" stroke-width="1"/>
<text x="35.8" y="100.60" font-size="11" letter-spacing="0.5" word-spacing="0.2" text-anchor="end" fill="#111">2 m</text>
<line x1="45.80" y1="65.10" x2="49.30" y2="65.10" stroke="#333" stroke-width="1"/>
<line x1="743.20" y1="459.60" x2="750.20" y2="459.60" stroke="#333" stroke-width="1"/>
<text x="781.4" y="464.20" font-size="11" letter-spacing="0.5" word-spacing="0.2" text-anchor="end" fill="#111">&#8211;1 ft</text>
<line x1="743.20" y1="435.65" x2="746.70" y2="435.65" stroke="#333" stroke-width="1"/>
<line x1="743.20" y1="411.70" x2="750.20" y2="411.70" stroke="#333" stroke-width="1"/>
<text x="781.4" y="416.30" font-size="11" letter-spacing="0.5" word-spacing="0.2" text-anchor="end" fill="#111">0 ft</text>
<line x1="743.20" y1="387.75" x2="746.70" y2="387.75" stroke="#333" stroke-width="1"/>
<line x1="743.20" y1="363.80" x2="750.20" y2="363.80" stroke="#333" stroke-width="1"/>
<text x="781.4" y="368.40" font-size="11" letter-spacing="0.5" word-spacing="0.2" text-anchor="end" fill="#111">1 ft</text>
<line x1="743.20" y1="339.85" x2="746.70" y2="339.85" stroke="#333" stroke-width="1"/>
<line x1="743.20" y1="315.90" x2="750.20" y2="315.90" stroke="#333" stroke-width="1"/>
<text x="781.4" y="320.50" font-size="11" letter-spacing="0.5" word-spacing="0.2" text-anchor="end" fill="#111">2 ft</text>
<line x1="743.20" y1="291.95" x2="746.70" y2="291.95" stroke="#333" stroke-width="1"/>
<line x1="743.20" y1="268.00" x2="750.20" y2="268.00" stroke="#333" stroke-width="1"/>
<text x="781.4" y="272.60" font-size="11" letter-spacing="0.5" word-spacing="0.2" text-anchor="end" fill="#111">3 ft</text>
<line x1="743.20" y1="244.05" x2="746.70" y2="244.05" stroke="#333" stroke-width="1"/>
<line x1="743.20" y1="220.10" x2="750.20" y2="220.10" stroke="#333" stroke-width="1"/>
<text x="781.4" y="224.70" font-size="11" letter-spacing="0.5" word-spacing="0.2" text-anchor="end" fill="#111">4 ft</text>
<line x1="743.20" y1="196.15" x2="746.70" y2="196.15" stroke="#333" stroke-width="1"/>
<line x1="743.20" y1="172.20" x2="750.20" y2="172.20" stroke="#333" stroke-width="1"/>
<text x="781.4" y="176.80" font-size="11" letter-spacing="0.5" word-spacing="0.2" text-anchor="end" fill="#111">5 ft</text>
<line x1="743.20" y1="148.25" x2="746.70" y2="148.25" stroke="#333" stroke-width="1"/>
<line x1="743.20" y1="124.30" x2="750.20" y2="124.30" stroke="#333" stroke-width="1"/>
<text x="781.4" y="128.90" font-size="11" letter-spacing="0.5" word-spacing="0.2" text-anchor="end" fill="#111">6 ft</text>
<line x1="743.20" y1="100.35" x2="746.70" y2="100.35" stroke="#333" stroke-width="1"/>
<line x1="743.20" y1="76.40" x2="750.20" y2="76.40" stroke="#333" stroke-width="1"/>
<text x="781.4" y="81.00" font-size="11" letter-spacing="0.5" word-spacing="0.2" text-anchor="end" fill="#111">7 ft</text>
<text x="103.71" y="75.10" font-size="9.4" text-anchor="middle" fill="#000">8:16 pm</text>
<text x="103.71" y="83.10" font-size="9.4" text-anchor="middle" fill="#000">6.6 ft</text>
<text x="103.71" y="93.10" font-size="9.4" text-anchor="middle" fill="#000">2.00 m</text>
<circle cx="103.71" cy="96.60" r="1.8" fill="#000"/>
<text x="124.43" y="354.07" font-size="9.4" text-anchor="middle" fill="#000">0.43 m</text>
<text x="124.43" y="364.27" font-size="9.4" text-anchor="middle" fill="#000">1.4 ft</text>
<text x="124.43" y="372.68" font-size="9.4" text-anchor="middle" fill="#000">2:46 am</text>
<circle cx="124.43" cy="343.88" r="1.8" fill="#000"/>
<text x="142.08" y="172.75" font-size="9.4" text-anchor="middle" fill="#000">8:18 am</text>
<text x="142.08" y="180.75" font-size="9.4" text-anchor="middle" fill="#000">4.5 ft</text>
<text x="142.08" y="190.75" font-size="9.4" text-anchor="middle" fill="#000">1.38 m</text>
<circle cx="142.08" cy="194.25" r="1.8" fill="#000"/>
<text x="160.89" y="390.30" font-size="9.4" text-anchor="middle" fill="#000">0.20 m</text>
<text x="160.89" y="400.50" font-size="9.4" text-anchor="middle" fill="#000">0.7 ft</text>
<text x="160.89" y="408.90" font-size="9.4" text-anchor="middle" fill="#000">2:12 pm</text>
<circle cx="160.89" cy="380.10" r="1.8" fill="#000"/>
<text x="182.31" y="70.38" font-size="9.4" text-anchor="middle" fill="#000">8:55 pm</text>
<text x="182.31" y="78.38" font-size="9.4" text-anchor="middle" fill="#000">6.7 ft</text>
<text x="182.31" y="88.38" font-size="9.4" text-anchor="middle" fill="#000">2.03 m</text>
<circle cx="182.31" cy="91.88" r="1.8" fill="#000"/>
<text x="203.09" y="360.38" font-size="9.4" text-anchor="middle" fill="#000">0.39 m</text>
<text x="203.09" y="370.57" font-size="9.4" text-anchor="middle" fill="#000">1.3 ft</text>
<text x="203.09" y="378.98" font-size="9.4" text-anchor="middle" fill="#000">3:26 am</text>
<circle cx="203.09" cy="350.18" r="1.8" fill="#000"/>
<text x="220.89" y="168.03" font-size="9.4" text-anchor="middle" fill="#000">9:01 am</text>
<text x="220.89" y="176.03" font-size="9.4" text-anchor="middle" fill="#000">4.6 ft</text>
<text x="220.89" y="186.03" font-size="9.4" text-anchor="middle" fill="#000">1.41 m</text>
<circle cx="220.89" cy="189.53" r="1.8" fill="#000"/>
<text x="239.76" y="388.73" font-size="9.4" text-anchor="middle" fill="#000">0.21 m</text>
<text x="239.76" y="398.93" font-size="9.4" text-anchor="middle" fill="#000">0.7 ft</text>
<text x="239.76" y="407.33" font-size="9.4" text-anchor="middle" fill="#000">2:56 pm</text>
<circle cx="239.76" cy="378.53" r="1.8" fill="#000"/>
<text x="261.02" y="71.95" font-size="9.4" text-anchor="middle" fill="#000">9:36 pm</text>
<text x="261.02" y="79.95" font-size="9.4" text-anchor="middle" fill="#000">6.6 ft</text>
<text x="261.02" y="89.95" font-size="9.4" text-anchor="middle" fill="#000">2.02 m</text>
<circle cx="261.02" cy="93.45" r="1.8" fill="#000"/>
<text x="281.80" y="363.53" font-size="9.4" text-anchor="middle" fill="#000">0.37 m</text>
<text x="281.80" y="373.73" font-size="9.4" text-anchor="middle" fill="#000">1.2 ft</text>
<text x="281.80" y="382.13" font-size="9.4" text-anchor="middle" fill="#000">4:07 am</text>
<circle cx="281.80" cy="353.33" r="1.8" fill="#000"/>
<text x="299.92" y="164.88" font-size="9.4" text-anchor="middle" fill="#000">9:48 am</text>
<text x="299.92" y="172.88" font-size="9.4" text-anchor="middle" fill="#000">4.7 ft</text>
<text x="299.92" y="182.88" font-size="9.4" text-anchor="middle" fill="#000">1.43 m</text>
<circle cx="299.92" cy="186.38" r="1.8" fill="#000"/>
<text x="318.74" y="380.85" font-size="9.4" text-anchor="middle" fill="#000">0.26 m</text>
<text x="318.74" y="391.05" font-size="9.4" text-anchor="middle" fill="#000">0.9 ft</text>
<text x="318.74" y="399.45" font-size="9.4" text-anchor="middle" fill="#000">3:42 pm</text>
<circle cx="318.74" cy="370.65" r="1.8" fill="#000"/>
<text x="339.84" y="79.83" font-size="9.4" text-anchor="middle" fill="#000">10:19 pm</text>
<text x="339.84" y="87.83" font-size="9.4" text-anchor="middle" fill="#000">6.5 ft</text>
<text x="339.84" y="97.83" font-size="9.4" text-anchor="middle" fill="#000">1.97 m</text>
<circle cx="339.84" cy="101.33" r="1.8" fill="#000"/>
<text x="360.62" y="365.10" font-size="9.4" text-anchor="middle" fill="#000">0.36 m</text>
<text x="360.62" y="375.30" font-size="9.4" text-anchor="middle" fill="#000">1.2 ft</text>
<text x="360.62" y="383.70" font-size="9.4" text-anchor="middle" fill="#000">4:50 am</text>
<circle cx="360.62" cy="354.90" r="1.8" fill="#000"/>
<text x="379.11" y="161.73" font-size="9.4" text-anchor="middle" fill="#000">10:38 am</text>
<text x="379.11" y="169.73" font-size="9.4" text-anchor="middle" fill="#000">4.8 ft</text>
<text x="379.11" y="179.73" font-size="9.4" text-anchor="middle" fill="#000">1.45 m</text>
<circle cx="379.11" cy="183.23" r="1.8" fill="#000"/>
<text x="397.93" y="369.82" font-size="9.4" text-anchor="middle" fill="#000">0.33 m</text>
<text x="397.93" y="380.02" font-size="9.4" text-anchor="middle" fill="#000">1.1 ft</text>
<text x="397.93" y="388.43" font-size="9.4" text-anchor="middle" fill="#000">4:32 pm</text>
<circle cx="398.53" cy="364.93" r="4.9" fill="#FFEE22" fill-opacity="0.8" stroke="#6E5A28" stroke-width="0.7"/>
<circle cx="397.93" cy="359.62" r="1.8" fill="#000"/>
<text x="418.76" y="95.57" font-size="9.4" text-anchor="middle" fill="#000">11:04 pm</text>
<text x="418.76" y="103.57" font-size="9.4" text-anchor="middle" fill="#000">6.1 ft</text>
<text x="418.76" y="113.57" font-size="9.4" text-anchor="middle" fill="#000">1.87 m</text>
<circle cx="418.76" cy="117.07" r="1.8" fill="#000"/>
<text x="439.59" y="365.10" font-size="9.4" text-anchor="middle" fill="#000">0.36 m</text>
<text x="439.59" y="375.30" font-size="9.4" text-anchor="middle" fill="#000">1.2 ft</text>
<text x="439.59" y="383.70" font-size="9.4" text-anchor="middle" fill="#000">5:36 am</text>
<circle cx="439.59" cy="354.90" r="1.8" fill="#000"/>
<text x="458.57" y="158.58" font-size="9.4" text-anchor="middle" fill="#000">11:33 am</text>
<text x="458.57" y="166.58" font-size="9.4" text-anchor="middle" fill="#000">4.8 ft</text>
<text x="458.57" y="176.58" font-size="9.4" text-anchor="middle" fill="#000">1.47 m</text>
<circle cx="458.57" cy="180.08" r="1.8" fill="#000"/>
<text x="477.43" y="354.07" font-size="9.4" text-anchor="middle" fill="#000">0.43 m</text>
<text x="477.43" y="364.27" font-size="9.4" text-anchor="middle" fill="#000">1.4 ft</text>
<text x="477.43" y="372.68" font-size="9.4" text-anchor="middle" fill="#000">5:28 pm</text>
<circle cx="477.43" cy="343.88" r="1.8" fill="#000"/>
<text x="497.90" y="114.48" font-size="9.4" text-anchor="middle" fill="#000">11:53 pm</text>
<text x="497.90" y="122.48" font-size="9.4" text-anchor="middle" fill="#000">5.7 ft</text>
<text x="497.90" y="132.48" font-size="9.4" text-anchor="middle" fill="#000">1.75 m</text>
<circle cx="497.90" cy="135.98" r="1.8" fill="#000"/>
<text x="518.78" y="363.53" font-size="9.4" text-anchor="middle" fill="#000">0.37 m</text>
<text x="518.78" y="373.73" font-size="9.4" text-anchor="middle" fill="#000">1.2 ft</text>
<text x="518.78" y="382.13" font-size="9.4" text-anchor="middle" fill="#000">6:26 am</text>
<circle cx="518.78" cy="353.33" r="1.8" fill="#000"/>
<text x="538.50" y="157.00" font-size="9.4" text-anchor="middle" fill="#000">12:37 pm</text>
<text x="538.50" y="165.00" font-size="9.4" text-anchor="middle" fill="#000">4.9 ft</text>
<text x="538.50" y="175.00" font-size="9.4" text-anchor="middle" fill="#000">1.48 m</text>
<circle cx="538.50" cy="178.50" r="1.8" fill="#000"/>
<text x="557.53" y="338.32" font-size="9.4" text-anchor="middle" fill="#000">0.53 m</text>
<text x="557.53" y="348.52" font-size="9.4" text-anchor="middle" fill="#000">1.7 ft</text>
<text x="557.53" y="356.93" font-size="9.4" text-anchor="middle" fill="#000">6:35 pm</text>
<circle cx="557.53" cy="328.12" r="1.8" fill="#000"/>
<text x="577.40" y="136.53" font-size="9.4" text-anchor="middle" fill="#000">12:49 am</text>
<text x="577.40" y="144.53" font-size="9.4" text-anchor="middle" fill="#000">5.3 ft</text>
<text x="577.40" y="154.53" font-size="9.4" text-anchor="middle" fill="#000">1.61 m</text>
<circle cx="577.40" cy="158.03" r="1.8" fill="#000"/>
<text x="598.34" y="361.95" font-size="9.4" text-anchor="middle" fill="#000">0.38 m</text>
<text x="598.34" y="372.15" font-size="9.4" text-anchor="middle" fill="#000">1.2 ft</text>
<text x="598.34" y="380.55" font-size="9.4" text-anchor="middle" fill="#000">7:23 am</text>
<circle cx="598.34" cy="351.75" r="1.8" fill="#000"/>
<text x="619.02" y="150.70" font-size="9.4" text-anchor="middle" fill="#000">1:52 pm</text>
<text x="619.02" y="158.70" font-size="9.4" text-anchor="middle" fill="#000">5.0 ft</text>
<text x="619.02" y="168.70" font-size="9.4" text-anchor="middle" fill="#000">1.52 m</text>
<circle cx="619.02" cy="172.20" r="1.8" fill="#000"/>
<text x="638.31" y="324.15" font-size="9.4" text-anchor="middle" fill="#000">0.62 m</text>
<text x="638.31" y="334.35" font-size="9.4" text-anchor="middle" fill="#000">2.0 ft</text>
<text x="638.31" y="342.75" font-size="9.4" text-anchor="middle" fill="#000">7:55 pm</text>
<circle cx="638.31" cy="313.95" r="1.8" fill="#000"/>
<text x="657.39" y="157.00" font-size="9.4" text-anchor="middle" fill="#000">1:54 am</text>
<text x="657.39" y="165.00" font-size="9.4" text-anchor="middle" fill="#000">4.9 ft</text>
<text x="657.39" y="175.00" font-size="9.4" text-anchor="middle" fill="#000">1.48 m</text>
<circle cx="657.39" cy="178.50" r="1.8" fill="#000"/>
<text x="678.17" y="363.53" font-size="9.4" text-anchor="middle" fill="#000">0.37 m</text>
<text x="678.17" y="373.73" font-size="9.4" text-anchor="middle" fill="#000">1.2 ft</text>
<text x="678.17" y="382.13" font-size="9.4" text-anchor="middle" fill="#000">8:25 am</text>
<circle cx="678.17" cy="353.33" r="1.8" fill="#000"/>
<text x="699.64" y="138.10" font-size="9.4" text-anchor="middle" fill="#000">3:09 pm</text>
<text x="699.64" y="146.10" font-size="9.4" text-anchor="middle" fill="#000">5.2 ft</text>
<text x="699.64" y="156.10" font-size="9.4" text-anchor="middle" fill="#000">1.60 m</text>
<circle cx="699.64" cy="159.60" r="1.8" fill="#000"/>
<text x="46" y="478.80" font-size="11" text-anchor="end" fill="#000">Sunrise</text>
<text x="746.5" y="478.80" font-size="11" text-anchor="start" fill="#000">Sunrise</text>
<text x="46" y="492.70" font-size="11" text-anchor="end" fill="#000">Sunset</text>
<text x="746.5" y="492.70" font-size="11" text-anchor="start" fill="#000">Sunset</text>
<text x="46" y="505.80" font-size="11" text-anchor="end" fill="#000">Moonrise</text>
<text x="746.5" y="505.80" font-size="11" text-anchor="start" fill="#000">Moonrise</text>
<text x="46" y="519.40" font-size="11" text-anchor="end" fill="#000">Moonset</text>
<text x="746.5" y="519.40" font-size="11" text-anchor="start" fill="#000">Moonset</text>
<polygon points="136.66,467.50 138.49,472.07 143.41,472.41 139.63,475.57 140.83,480.34 136.66,477.72 132.48,480.34 133.69,475.57 129.90,472.41 134.82,472.07" fill="#8C6414"/><polygon points="136.66,470.20 140.84,473.24 139.24,478.16 134.07,478.16 132.47,473.24" fill="#C8C832" stroke="#8C6414" stroke-width="0.9"/>
<text x="143.46" y="478.3" font-size="9" letter-spacing="0.3" fill="#222">6:36am</text>
<polygon points="213.19,467.50 215.02,472.07 219.94,472.41 216.16,475.57 217.36,480.34 213.19,477.72 209.02,480.34 210.22,475.57 206.44,472.41 211.35,472.07" fill="#8C6414"/><polygon points="213.19,470.20 217.38,473.24 215.78,478.16 210.60,478.16 209.00,473.24" fill="#C8C832" stroke="#8C6414" stroke-width="0.9"/>
<text x="219.99" y="478.3" font-size="9" letter-spacing="0.3" fill="#222">6:36am</text>
<polygon points="289.72,467.50 291.56,472.07 296.47,472.41 292.69,475.57 293.89,480.34 289.72,477.72 285.55,480.34 286.75,475.57 282.97,472.41 287.88,472.07" fill="#8C6414"/><polygon points="289.72,470.20 293.91,473.24 292.31,478.16 287.13,478.16 285.53,473.24" fill="#C8C832" stroke="#8C6414" stroke-width="0.9"/>
<text x="296.52" y="478.3" font-size="9" letter-spacing="0.3" fill="#222">6:36am</text>
<polygon points="366.25,467.50 368.09,472.07 373.00,472.41 369.22,475.57 370.42,480.34 366.25,477.72 362.08,480.34 363.28,475.57 359.50,472.41 364.41,472.07" fill="#8C6414"/><polygon points="366.25,470.20 370.44,473.24 368.84,478.16 363.66,478.16 362.06,473.24" fill="#C8C832" stroke="#8C6414" stroke-width="0.9"/>
<text x="373.05" y="478.3" font-size="9" letter-spacing="0.3" fill="#222">6:36am</text>
<polygon points="442.78,467.50 444.62,472.07 449.53,472.41 445.75,475.57 446.96,480.34 442.78,477.72 438.61,480.34 439.81,475.57 436.03,472.41 440.95,472.07" fill="#8C6414"/><polygon points="442.78,470.20 446.97,473.24 445.37,478.16 440.19,478.16 438.60,473.24" fill="#C8C832" stroke="#8C6414" stroke-width="0.9"/>
<text x="449.58" y="478.3" font-size="9" letter-spacing="0.3" fill="#222">6:36am</text>
<polygon points="519.31,467.50 521.15,472.07 526.07,472.41 522.28,475.57 523.49,480.34 519.31,477.72 515.14,480.34 516.34,475.57 512.56,472.41 517.48,472.07" fill="#8C6414"/><polygon points="519.31,470.20 523.50,473.24 521.90,478.16 516.73,478.16 515.13,473.24" fill="#C8C832" stroke="#8C6414" stroke-width="0.9"/>
<text x="526.11" y="478.3" font-size="9" letter-spacing="0.3" fill="#222">6:36am</text>
<polygon points="595.84,467.50 597.68,472.07 602.60,472.41 598.82,475.57 600.02,480.34 595.84,477.72 591.67,480.34 592.87,475.57 589.09,472.41 594.01,472.07" fill="#8C6414"/><polygon points="595.84,470.20 600.03,473.24 598.43,478.16 593.26,478.16 591.66,473.24" fill="#C8C832" stroke="#8C6414" stroke-width="0.9"/>
<text x="602.64" y="478.3" font-size="9" letter-spacing="0.3" fill="#222">6:36am</text>
<polygon points="672.38,467.50 674.21,472.07 679.13,472.41 675.35,475.57 676.55,480.34 672.38,477.72 668.20,480.34 669.40,475.57 665.62,472.41 670.54,472.07" fill="#8C6414"/><polygon points="672.38,470.20 676.56,473.24 674.96,478.16 669.79,478.16 668.19,473.24" fill="#C8C832" stroke="#8C6414" stroke-width="0.9"/>
<text x="679.18" y="478.3" font-size="9" letter-spacing="0.3" fill="#222">6:36am</text>
<polygon points="93.56,481.20 95.39,485.77 100.31,486.11 96.53,489.27 97.73,494.04 93.56,491.42 89.38,494.04 90.58,489.27 86.80,486.11 91.72,485.77" fill="#826420"/><polygon points="93.56,483.90 97.74,486.94 96.14,491.86 90.97,491.86 89.37,486.94" fill="#BE7350" stroke="#826420" stroke-width="0.9"/>
<text x="100.36" y="492.0" font-size="9" letter-spacing="0.3" fill="#222">5:05pm</text>
<polygon points="170.14,481.20 171.98,485.77 176.89,486.11 173.11,489.27 174.31,494.04 170.14,491.42 165.97,494.04 167.17,489.27 163.39,486.11 168.30,485.77" fill="#826420"/><polygon points="170.14,483.90 174.33,486.94 172.73,491.86 167.55,491.86 165.95,486.94" fill="#BE7350" stroke="#826420" stroke-width="0.9"/>
<text x="176.94" y="492.0" font-size="9" letter-spacing="0.3" fill="#222">5:06pm</text>
<polygon points="246.67,481.20 248.51,485.77 253.42,486.11 249.64,489.27 250.84,494.04 246.67,491.42 242.50,494.04 243.70,489.27 239.92,486.11 244.83,485.77" fill="#826420"/><polygon points="246.67,483.90 250.86,486.94 249.26,491.86 244.08,491.86 242.48,486.94" fill="#BE7350" stroke="#826420" stroke-width="0.9"/>
<text x="253.47" y="492.0" font-size="9" letter-spacing="0.3" fill="#222">5:06pm</text>
<polygon points="323.20,481.20 325.04,485.77 329.95,486.11 326.17,489.27 327.38,494.04 323.20,491.42 319.03,494.04 320.23,489.27 316.45,486.11 321.37,485.77" fill="#826420"/><polygon points="323.20,483.90 327.39,486.94 325.79,491.86 320.61,491.86 319.02,486.94" fill="#BE7350" stroke="#826420" stroke-width="0.9"/>
<text x="330.00" y="492.0" font-size="9" letter-spacing="0.3" fill="#222">5:06pm</text>
<polygon points="399.79,481.20 401.62,485.77 406.54,486.11 402.76,489.27 403.96,494.04 399.79,491.42 395.61,494.04 396.82,489.27 393.03,486.11 397.95,485.77" fill="#826420"/><polygon points="399.79,483.90 403.97,486.94 402.37,491.86 397.20,491.86 395.60,486.94" fill="#BE7350" stroke="#826420" stroke-width="0.9"/>
<text x="406.59" y="492.0" font-size="9" letter-spacing="0.3" fill="#222">5:07pm</text>
<polygon points="476.32,481.20 478.15,485.77 483.07,486.11 479.29,489.27 480.49,494.04 476.32,491.42 472.14,494.04 473.35,489.27 469.57,486.11 474.48,485.77" fill="#826420"/><polygon points="476.32,483.90 480.50,486.94 478.91,491.86 473.73,491.86 472.13,486.94" fill="#BE7350" stroke="#826420" stroke-width="0.9"/>
<text x="483.12" y="492.0" font-size="9" letter-spacing="0.3" fill="#222">5:07pm</text>
<polygon points="552.90,481.20 554.74,485.77 559.65,486.11 555.87,489.27 557.08,494.04 552.90,491.42 548.73,494.04 549.93,489.27 546.15,486.11 551.07,485.77" fill="#826420"/><polygon points="552.90,483.90 557.09,486.94 555.49,491.86 550.31,491.86 548.72,486.94" fill="#BE7350" stroke="#826420" stroke-width="0.9"/>
<text x="559.70" y="492.0" font-size="9" letter-spacing="0.3" fill="#222">5:08pm</text>
<polygon points="629.43,481.20 631.27,485.77 636.19,486.11 632.40,489.27 633.61,494.04 629.43,491.42 625.26,494.04 626.46,489.27 622.68,486.11 627.60,485.77" fill="#826420"/><polygon points="629.43,483.90 633.62,486.94 632.02,491.86 626.85,491.86 625.25,486.94" fill="#BE7350" stroke="#826420" stroke-width="0.9"/>
<text x="636.23" y="492.0" font-size="9" letter-spacing="0.3" fill="#222">5:08pm</text>
<circle cx="137.99" cy="502.1" r="5.1" fill="#FFFFC8" stroke="#96968C" stroke-width="1"/>
<text x="144.79" y="505.4" font-size="9" letter-spacing="0.3" fill="#222">7:01am</text>
<circle cx="216.96" cy="502.1" r="5.1" fill="#FFFFC8" stroke="#96968C" stroke-width="1"/>
<text x="223.76" y="505.4" font-size="9" letter-spacing="0.3" fill="#222">7:47am</text>
<circle cx="295.73" cy="502.1" r="5.1" fill="#FFFFC8" stroke="#96968C" stroke-width="1"/>
<text x="302.53" y="505.4" font-size="9" letter-spacing="0.3" fill="#222">8:29am</text>
<circle cx="374.38" cy="502.1" r="5.1" fill="#FFFFC8" stroke="#96968C" stroke-width="1"/>
<text x="381.18" y="505.4" font-size="9" letter-spacing="0.3" fill="#222">9:09am</text>
<circle cx="452.93" cy="502.1" r="5.1" fill="#FFFFC8" stroke="#96968C" stroke-width="1"/>
<text x="459.73" y="505.4" font-size="9" letter-spacing="0.3" fill="#222">9:47am</text>
<circle cx="531.48" cy="502.1" r="5.1" fill="#FFFFC8" stroke="#96968C" stroke-width="1"/>
<text x="538.28" y="505.4" font-size="9" letter-spacing="0.3" fill="#222">10:25am</text>
<circle cx="610.09" cy="502.1" r="5.1" fill="#FFFFC8" stroke="#96968C" stroke-width="1"/>
<text x="616.89" y="505.4" font-size="9" letter-spacing="0.3" fill="#222">11:04am</text>
<circle cx="688.85" cy="502.1" r="5.1" fill="#FFFFC8" stroke="#96968C" stroke-width="1"/>
<text x="695.65" y="505.4" font-size="9" letter-spacing="0.3" fill="#222">11:46am</text>
<circle cx="173.01" cy="515.4" r="5.1" fill="#C8C8B9" stroke="#828278" stroke-width="1"/>
<text x="179.81" y="519.0" font-size="9" letter-spacing="0.3" fill="#222">6:00pm</text>
<circle cx="252.89" cy="515.4" r="5.1" fill="#C8C8B9" stroke="#828278" stroke-width="1"/>
<text x="259.69" y="519.0" font-size="9" letter-spacing="0.3" fill="#222">7:03pm</text>
<circle cx="332.72" cy="515.4" r="5.1" fill="#C8C8B9" stroke="#828278" stroke-width="1"/>
<text x="339.52" y="519.0" font-size="9" letter-spacing="0.3" fill="#222">8:05pm</text>
<circle cx="412.59" cy="515.4" r="5.1" fill="#C8C8B9" stroke="#828278" stroke-width="1"/>
<text x="419.39" y="519.0" font-size="9" letter-spacing="0.3" fill="#222">9:08pm</text>
<circle cx="492.42" cy="515.4" r="5.1" fill="#C8C8B9" stroke="#828278" stroke-width="1"/>
<text x="499.22" y="519.0" font-size="9" letter-spacing="0.3" fill="#222">10:10pm</text>
<circle cx="572.25" cy="515.4" r="5.1" fill="#C8C8B9" stroke="#828278" stroke-width="1"/>
<text x="579.05" y="519.0" font-size="9" letter-spacing="0.3" fill="#222">11:12pm</text>
<circle cx="652.13" cy="515.4" r="5.1" fill="#C8C8B9" stroke="#828278" stroke-width="1"/>
<text x="658.93" y="519.0" font-size="9" letter-spacing="0.3" fill="#222">12:15am</text>
<text x="95.00" y="533" font-size="9" letter-spacing="0.2" text-anchor="end" fill="#222">New Moon</text>
<text x="99.90" y="533" font-size="9" text-anchor="middle" fill="#222">|</text>
<text x="102.90" y="533" font-size="9" letter-spacing="0.2" fill="#222">6:53pm</text>
<text x="623.06" y="533" font-size="9" letter-spacing="0.2" text-anchor="end" fill="#222">First Quarter</text>
<text x="627.96" y="533" font-size="9" text-anchor="middle" fill="#222">|</text>
<text x="630.96" y="533" font-size="9" letter-spacing="0.2" fill="#222">4:29pm</text>
</svg></body></html>
